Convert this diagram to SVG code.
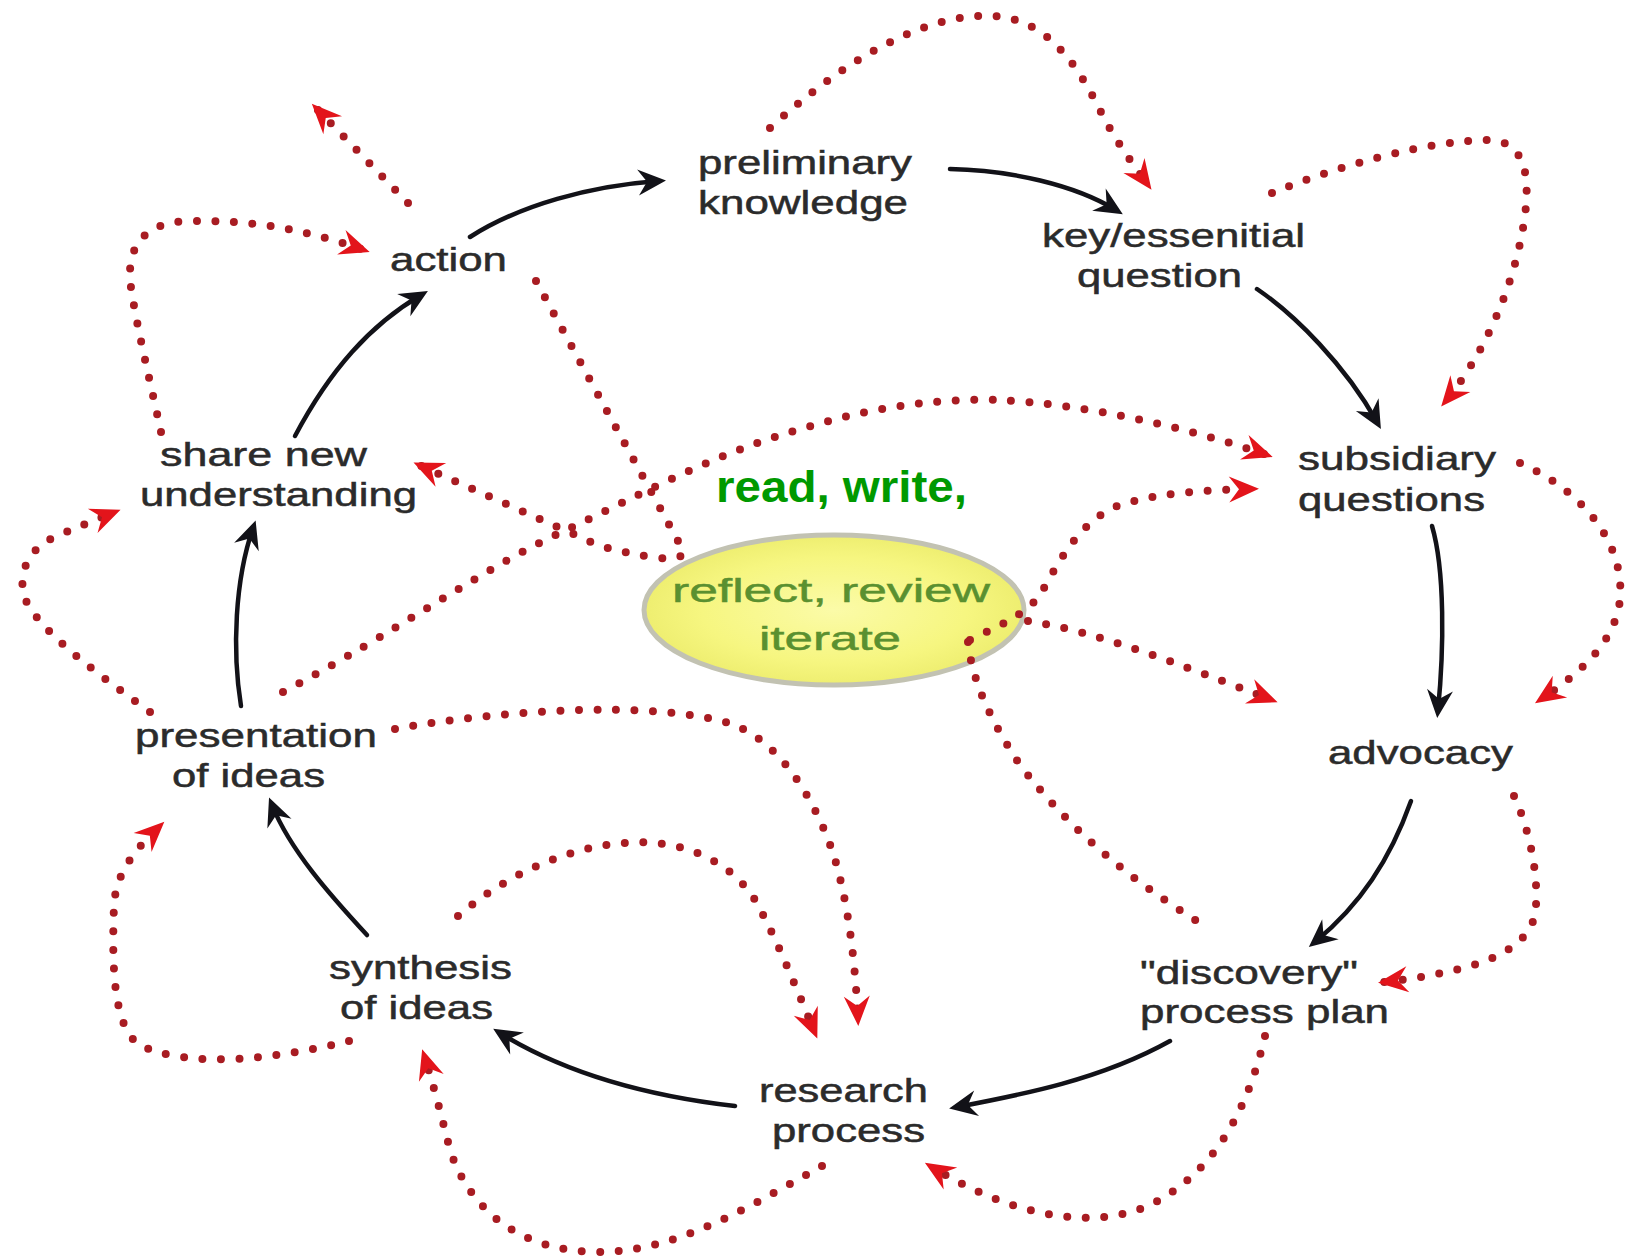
<svg xmlns="http://www.w3.org/2000/svg" width="1632" height="1259" viewBox="0 0 1632 1259">
<style>
.lbl{font-family:"Liberation Sans",Arial,sans-serif;font-size:33px;fill:#2b2b2b;stroke:#2b2b2b;stroke-width:0.5}
.blk{fill:none;stroke:#121218;stroke-width:4.5;stroke-linecap:round;marker-end:url(#ba)}
.dot{fill:none;stroke:#a81c22;stroke-width:8;stroke-linecap:round;stroke-dasharray:0 18.5}
.dotA{marker-end:url(#ra)}
</style>
<defs>
<marker id="ba" viewBox="-32 -15 34 30" markerWidth="34" markerHeight="30" refX="-8" refY="0" orient="auto" markerUnits="userSpaceOnUse">
<path d="M0,0 L-28,-13 L-19,0 L-28,13 Z" fill="#121218"/>
</marker>
<marker id="ra" viewBox="-34 -16 36 32" markerWidth="36" markerHeight="32" refX="-6" refY="0" orient="auto" markerUnits="userSpaceOnUse">
<path d="M0,0 L-30,-13 L-20,0 L-30,13 Z" fill="#e3141b"/>
</marker>
<radialGradient id="yg" cx="0.5" cy="0.5" r="0.5">
<stop offset="0" stop-color="#fbfba8"/>
<stop offset="0.7" stop-color="#f6f680"/>
<stop offset="1" stop-color="#eeee70"/>
</radialGradient>
</defs>
<rect width="1632" height="1259" fill="#ffffff"/>

<g id="reflect">
<ellipse cx="834" cy="610" rx="190" ry="75" fill="url(#yg)" stroke="#c2c2b2" stroke-width="5"/>
</g>

<g id="connectors">
<!-- black cycle arrows -->
<path class="blk" d="M470,237 C520,205 590,186 658,181"/>
<path class="blk" d="M950,169 C1010,170 1075,185 1116,210"/>
<path class="blk" d="M1257,289 C1295,315 1345,365 1377,422"/>
<path class="blk" d="M1432,526 C1445,570 1444,650 1438,710"/>
<path class="blk" d="M1411,801 C1390,860 1360,905 1315,942"/>
<path class="blk" d="M1170,1041 C1100,1080 1020,1095 957,1107"/>
<path class="blk" d="M735,1106 C640,1095 560,1070 500,1033"/>
<path class="blk" d="M367,935 C330,895 290,850 272,805"/>
<path class="blk" d="M241,706 C232,650 235,580 253,528"/>
<path class="blk" d="M295,436 C330,370 370,325 421,295"/>
<!-- red dotted loops -->
<path class="dot dotA" d="M770,128 C850,55 930,12 995,16 C1045,20 1075,60 1100,110 C1115,140 1130,160 1148,185"/>
<path class="dot dotA" d="M1272,193 C1340,165 1430,140 1490,140 C1525,142 1530,175 1525,215 C1515,290 1480,360 1445,402"/>
<path class="dot dotA" d="M1520,463 C1580,490 1625,540 1620,600 C1615,640 1585,670 1540,700"/>
<path class="dot dotA" d="M1514,796 C1530,830 1540,880 1535,915 C1525,955 1470,972 1384,982"/>
<path class="dot dotA" d="M1265,1036 C1250,1100 1220,1170 1150,1205 C1090,1232 1010,1215 930,1166"/>
<path class="dot dotA" d="M822,1166 C760,1200 680,1252 600,1252 C520,1252 470,1210 450,1150 C440,1110 432,1080 424,1055"/>
<path class="dot dotA" d="M349,1041 C280,1058 190,1070 140,1045 C112,1028 112,960 114,905 C116,870 140,845 160,826"/>
<path class="dot dotA" d="M150,712 C100,675 50,640 28,605 C15,580 25,550 55,537 C75,528 95,520 115,512"/>
<path class="dot dotA" d="M161,432 C150,380 135,320 130,280 C128,240 150,222 190,221 C250,220 300,228 364,250"/>
<path class="dot dotA" d="M408,203 L316,108"/>
<path class="dot dotA" d="M536,281 L684,552 C680,565 640,556 600,546 L419,465"/>
<path class="dot dotA" d="M283,692 C400,630 480,570 560,533 C640,495 720,450 815,425 C880,405 950,398 1000,400 C1080,404 1180,425 1267,455"/>
<path class="dot dotA" d="M970,640 C1000,625 1025,615 1040,595 C1060,560 1080,520 1120,505 C1160,492 1210,490 1253,489"/>
<path class="dot" d="M968,642 C972,680 990,720 1020,765 C1070,830 1130,880 1205,926"/>
<path class="dot dotA" d="M1028,621 C1100,632 1180,665 1272,700"/>
<path class="dot dotA" d="M395,729 C500,710 650,700 729,723 C780,740 815,800 833,853 C848,900 855,960 858,1020"/>
<path class="dot dotA" d="M458,916 C500,880 560,848 624,843 C680,838 730,860 755,900 C775,935 795,985 815,1033"/>
</g>

<g id="reflect-text">
<text x="672" y="602" textLength="318" lengthAdjust="spacingAndGlyphs" style="font-family:'Liberation Sans',Arial,sans-serif;font-size:34px;fill:#5a9030;stroke:#5a9030;stroke-width:0.5">reflect, review</text>
<text x="759" y="650" textLength="142" lengthAdjust="spacingAndGlyphs" style="font-family:'Liberation Sans',Arial,sans-serif;font-size:34px;fill:#5a9030;stroke:#5a9030;stroke-width:0.5">iterate</text>
</g>
<g id="read-write">
<text x="716" y="502" textLength="251" lengthAdjust="spacingAndGlyphs" style="font-family:'Liberation Sans',Arial,sans-serif;font-size:45px;font-weight:bold;fill:#009900">read, write,</text>
</g>

<g id="preliminary">
<text class="lbl" x="698" y="174" textLength="214" lengthAdjust="spacingAndGlyphs">preliminary</text>
<text class="lbl" x="698" y="214" textLength="210" lengthAdjust="spacingAndGlyphs">knowledge</text>
</g>
<g id="key">
<text class="lbl" x="1042" y="247" textLength="263" lengthAdjust="spacingAndGlyphs">key/essenitial</text>
<text class="lbl" x="1077" y="287" textLength="165" lengthAdjust="spacingAndGlyphs">question</text>
</g>
<g id="subsidiary">
<text class="lbl" x="1298" y="470" textLength="198" lengthAdjust="spacingAndGlyphs">subsidiary</text>
<text class="lbl" x="1298" y="511" textLength="187" lengthAdjust="spacingAndGlyphs">questions</text>
</g>
<g id="advocacy">
<text class="lbl" x="1328" y="764" textLength="185" lengthAdjust="spacingAndGlyphs">advocacy</text>
</g>
<g id="discovery">
<text class="lbl" x="1140" y="984" textLength="218" lengthAdjust="spacingAndGlyphs">"discovery"</text>
<text class="lbl" x="1140" y="1023" textLength="249" lengthAdjust="spacingAndGlyphs">process plan</text>
</g>
<g id="research">
<text class="lbl" x="759" y="1102" textLength="169" lengthAdjust="spacingAndGlyphs">research</text>
<text class="lbl" x="772" y="1142" textLength="153" lengthAdjust="spacingAndGlyphs">process</text>
</g>
<g id="synthesis">
<text class="lbl" x="329" y="979" textLength="183" lengthAdjust="spacingAndGlyphs">synthesis</text>
<text class="lbl" x="340" y="1019" textLength="153" lengthAdjust="spacingAndGlyphs">of ideas</text>
</g>
<g id="presentation">
<text class="lbl" x="135" y="747" textLength="242" lengthAdjust="spacingAndGlyphs">presentation</text>
<text class="lbl" x="172" y="787" textLength="153" lengthAdjust="spacingAndGlyphs">of ideas</text>
</g>
<g id="share">
<text class="lbl" x="160" y="466" textLength="207" lengthAdjust="spacingAndGlyphs">share new</text>
<text class="lbl" x="140" y="506" textLength="277" lengthAdjust="spacingAndGlyphs">understanding</text>
</g>
<g id="action">
<text class="lbl" x="390" y="271" textLength="117" lengthAdjust="spacingAndGlyphs">action</text>
</g>
</svg>
